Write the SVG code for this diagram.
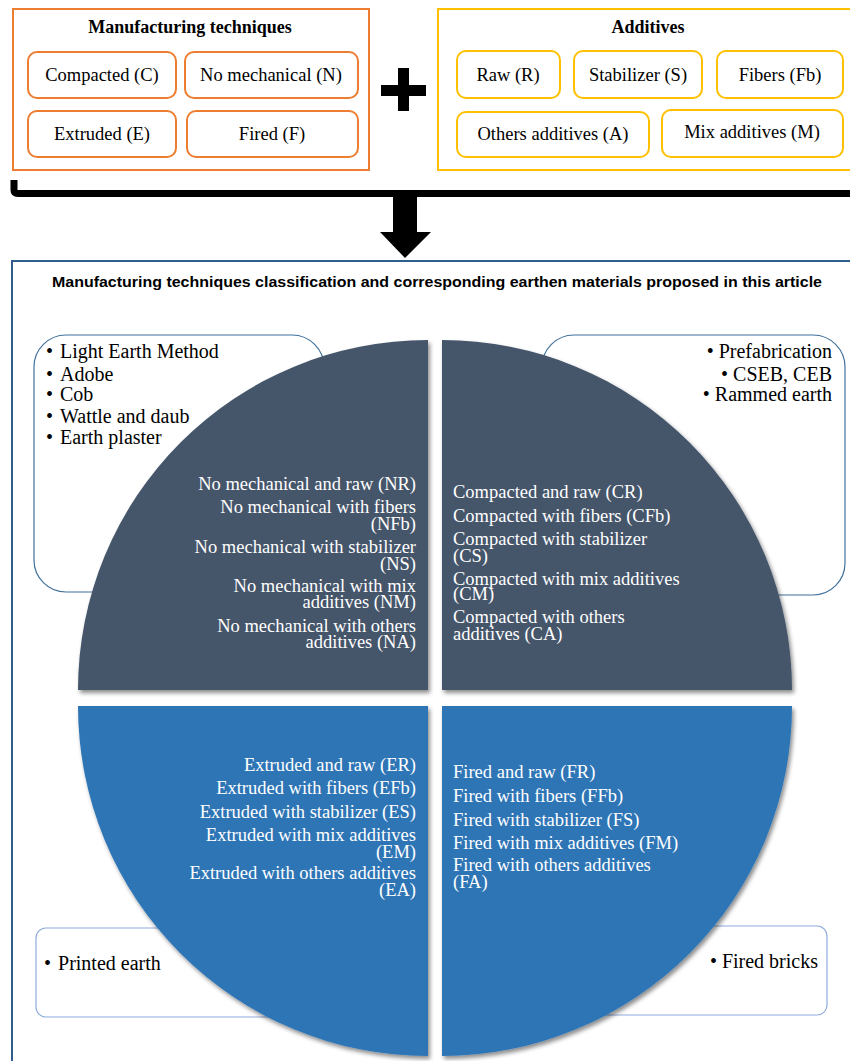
<svg xmlns="http://www.w3.org/2000/svg" width="850" height="1061" viewBox="0 0 850 1061">
<defs>
<filter id="sh" x="-5%" y="-5%" width="115%" height="115%">
<feDropShadow dx="2" dy="3" stdDeviation="2" flood-color="#000" flood-opacity="0.45"/>
</filter>
</defs>
<style>
.serif{font-family:"Liberation Serif","Times New Roman",serif;}
.tb{font-size:18.5px;fill:#000;text-anchor:middle;}
.ttl{font-size:18px;font-weight:bold;fill:#000;text-anchor:middle;}
.ob{fill:#fff;stroke:#ED7D31;stroke-width:2;}
.yb{fill:#fff;stroke:#FFC000;stroke-width:2;}
.q{font-size:18.5px;fill:#fff;}
.bl{font-size:20px;fill:#000;}
.darkq{fill:#44546A;filter:url(#sh);}
.blueq{fill:#2E75B6;filter:url(#sh);}
</style>
<rect width="850" height="1061" fill="#fff"/>

<g id="manufacturing">
<rect x="13" y="9" width="356" height="161" fill="#fff" stroke="#ED7D31" stroke-width="2"/>
<text class="serif ttl" x="190" y="33">Manufacturing techniques</text>
</g>
<g id="compacted"><rect class="ob" x="28" y="52" width="148" height="46" rx="9"/><text class="serif tb" x="102" y="81">Compacted (C)</text></g>
<g id="nomechanical"><rect class="ob" x="185" y="52" width="173" height="46" rx="9"/><text class="serif tb" x="271" y="81">No mechanical (N)</text></g>
<g id="extruded"><rect class="ob" x="28" y="111" width="148" height="46" rx="9"/><text class="serif tb" x="102" y="140">Extruded (E)</text></g>
<g id="fired"><rect class="ob" x="187" y="111" width="171" height="46" rx="9"/><text class="serif tb" x="272" y="140">Fired (F)</text></g>

<g id="plus">
<rect x="398" y="68" width="11" height="43" fill="#000"/>
<rect x="381" y="85" width="45" height="11" fill="#000"/>
</g>

<g id="additives">
<rect x="438" y="9" width="420" height="161" fill="#fff" stroke="#FFC000" stroke-width="2"/>
<text class="serif ttl" x="648" y="33">Additives</text>
</g>
<g id="raw"><rect class="yb" x="457" y="51" width="103" height="47" rx="9"/><text class="serif tb" x="508" y="81">Raw (R)</text></g>
<g id="stabilizer"><rect class="yb" x="574" y="51" width="128" height="47" rx="9"/><text class="serif tb" x="638" y="81">Stabilizer (S)</text></g>
<g id="fibers"><rect class="yb" x="717" y="51" width="126" height="47" rx="9"/><text class="serif tb" x="780" y="81">Fibers (Fb)</text></g>
<g id="others"><rect class="yb" x="457" y="112" width="192" height="45" rx="9"/><text class="serif tb" x="553" y="140">Others additives (A)</text></g>
<g id="mix"><rect class="yb" x="662" y="110" width="181" height="47" rx="9"/><text class="serif tb" x="752" y="138">Mix additives (M)</text></g>

<g id="connectors">
<path d="M14,180 L14,190 Q14,193.5 18,193.5 L850,193.5" fill="none" stroke="#000" stroke-width="7"/>
<rect x="393" y="196" width="24" height="37" fill="#000"/>
<polygon points="380,232 431,232 405,258" fill="#000"/>
</g>

<g id="classification">
<rect x="12" y="261" width="850" height="820" fill="#fff" stroke="#2F5D8C" stroke-width="2"/>
<text x="437" y="287" font-family="'Liberation Sans',Arial,sans-serif" font-size="15.5" font-weight="bold" fill="#000" text-anchor="middle" textLength="770" lengthAdjust="spacingAndGlyphs">Manufacturing techniques classification and corresponding earthen materials proposed in this article</text>
</g>

<g id="box-nomechanical">
<rect x="34" y="335" width="290" height="257" rx="32" fill="#fff" stroke="#41719C" stroke-width="1.2"/>
<text class="serif bl" x="46" y="358">•<tspan dx="7">Light Earth Method</tspan></text>
<text class="serif bl" x="46" y="381">•<tspan dx="7">Adobe</tspan></text>
<text class="serif bl" x="46" y="401">•<tspan dx="7">Cob</tspan></text>
<text class="serif bl" x="46" y="423">•<tspan dx="7">Wattle and daub</tspan></text>
<text class="serif bl" x="46" y="444">•<tspan dx="7">Earth plaster</tspan></text>
</g>
<g id="box-compacted">
<rect x="542" y="335" width="303" height="260" rx="32" fill="#fff" stroke="#41719C" stroke-width="1.2"/>
<g text-anchor="end">
<text class="serif bl" x="832" y="358">• Prefabrication</text>
<text class="serif bl" x="832" y="381">• CSEB, CEB</text>
<text class="serif bl" x="832" y="401">• Rammed earth</text>
</g>
</g>
<g id="box-extruded">
<rect x="36" y="928" width="330" height="89" rx="10" fill="#fff" stroke="#8FAADC" stroke-width="1.2"/>
<text class="serif bl" x="44" y="970">•<tspan dx="7">Printed earth</tspan></text>
</g>
<g id="box-fired">
<rect x="520" y="926" width="307" height="89" rx="10" fill="#fff" stroke="#8FAADC" stroke-width="1.2"/>
<text class="serif bl" x="818" y="968" text-anchor="end">•<tspan dx="5">Fired bricks</tspan></text>
</g>

<g id="quadrant-nomechanical">
<path class="darkq" d="M428,690 L78,690 A350,350 0 0 1 428,340 Z"/>
<g class="serif q" text-anchor="end">
<text x="416" y="490">No mechanical and raw (NR)</text>
<text x="416" y="513">No mechanical with fibers</text>
<text x="416" y="530">(NFb)</text>
<text x="416" y="553">No mechanical with stabilizer</text>
<text x="416" y="570">(NS)</text>
<text x="416" y="592">No mechanical  with mix</text>
<text x="416" y="608">additives (NM)</text>
<text x="416" y="632">No mechanical with others</text>
<text x="416" y="648">additives (NA)</text>
</g>
</g>
<g id="quadrant-compacted">
<path class="darkq" d="M442,690 L442,340 A350,350 0 0 1 792,690 Z"/>
<g class="serif q">
<text x="453" y="498">Compacted and raw (CR)</text>
<text x="453" y="522">Compacted with fibers (CFb)</text>
<text x="453" y="545">Compacted with stabilizer</text>
<text x="453" y="562">(CS)</text>
<text x="453" y="585">Compacted with mix additives</text>
<text x="453" y="600">(CM)</text>
<text x="453" y="623">Compacted with others</text>
<text x="453" y="640">additives (CA)</text>
</g>
</g>
<g id="quadrant-extruded">
<path class="blueq" d="M428,706 L428,1056 A350,350 0 0 1 78,706 Z"/>
<g class="serif q" text-anchor="end">
<text x="416" y="771">Extruded and raw (ER)</text>
<text x="416" y="794">Extruded with fibers (EFb)</text>
<text x="416" y="818">Extruded with stabilizer (ES)</text>
<text x="416" y="841">Extruded with mix additives</text>
<text x="416" y="858">(EM)</text>
<text x="416" y="879">Extruded with others additives</text>
<text x="416" y="896">(EA)</text>
</g>
</g>
<g id="quadrant-fired">
<path class="blueq" d="M442,706 L792,706 A350,350 0 0 1 442,1056 Z"/>
<g class="serif q">
<text x="453" y="778">Fired and raw (FR)</text>
<text x="453" y="802">Fired with fibers (FFb)</text>
<text x="453" y="826">Fired with stabilizer (FS)</text>
<text x="453" y="849">Fired with mix additives (FM)</text>
<text x="453" y="871">Fired with others additives</text>
<text x="453" y="888">(FA)</text>
</g>
</g>
</svg>
